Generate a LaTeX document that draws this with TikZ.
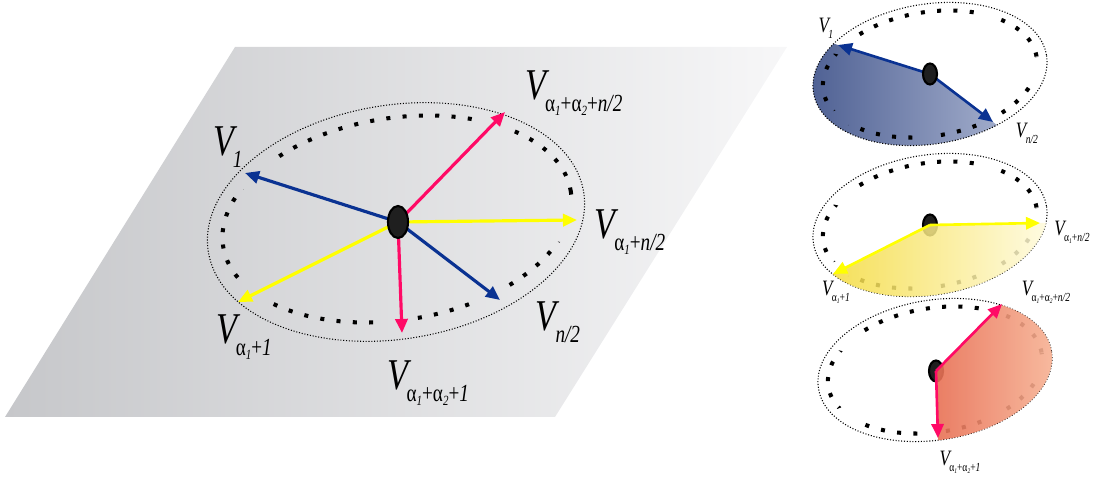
\documentclass[tikz,border=0pt]{standalone}
\usepackage{fontspec}
\setmainfont{Liberation Serif}
\usepackage{graphicx}
\usetikzlibrary{calc,arrows.meta}

\definecolor{vblue}{HTML}{0A3292}
\definecolor{vpink}{HTML}{FF0A66}
\definecolor{vyellow}{HTML}{FFFF00}
\definecolor{planeL}{HTML}{C6C7CA}
\definecolor{planeR}{HTML}{F7F7F8}
\definecolor{blueL}{HTML}{4E6093}
\definecolor{blueR}{HTML}{B8C1DA}
\definecolor{yelL}{HTML}{F3D72B}
\definecolor{yelR}{HTML}{FFFBE0}
\definecolor{redL}{HTML}{D82A10}
\definecolor{redM}{HTML}{EA5A3A}
\definecolor{redR}{HTML}{F7B496}

% labels V_{...}
\newcommand{\al}[1]{{\upshape α}\raisebox{-2pt}{\fontsize{8}{8}\selectfont #1}}
\newcommand{\pl}{{\upshape +}}
\newcommand{\vlab}[1]{\scalebox{0.78}[1]{\itshape\fontsize{25}{25}\selectfont V\kern-1pt\raisebox{-7pt}{\fontsize{14}{14}\selectfont #1}}}
\newcommand{\gaplist}{-153/-168,-41/-54,7/-9,44/31,101/81,-201/-212}

\begin{document}
\begin{tikzpicture}[x=0.02cm, y=-0.02cm,
    vec/.style={line width=1.8pt, -{Triangle[length=8pt,width=7pt]}},
    ring/.style={line width=2.3pt, dash pattern=on 2.3pt off 7pt},
    rim/.style={densely dotted, line width=0.6pt},
    hub/.style={fill=black!88, draw=black, line width=1.2pt}]
    \useasboundingbox (0,0) rectangle (1107,479);
    % plane
    \shade[left color=planeL, right color=planeR] (5,417) -- (235,47) -- (787,47) -- (555,417) -- cycle;

    % big picture
    \coordinate (o) at (398,222);
    \coordinate (v1) at (245,173);
    \coordinate (vn) at (500,300);
    \coordinate (va) at (505,112);
    \coordinate (vb) at (402,333);
    \coordinate (vc) at (577,220);
    \coordinate (vd) at (238,302);
    \draw[rim, rotate around={9:(396,222)}] (396,222) ellipse [x radius=190, y radius=117];
    \begin{scope}[even odd rule]
        \clip (0,0) rectangle (1107,479)
            \foreach \a/\b in \gaplist {(o) -- +(\a:500) -- +(\b:500) -- cycle};
        \draw[ring, rotate around={9:(397,219)}] (397,219) ellipse [x radius=176, y radius=101];
    \end{scope}
    \draw[vec, vblue] (o) -- (v1);
    \draw[vec, vblue] (o) -- (vn);
    \draw[vec, vpink] (o) -- (va);
    \draw[vec, vpink] (o) -- (vb);
    \draw[vec, vyellow] (o) -- (vc);
    \draw[vec, vyellow] (o) -- (vd);
    \draw[hub] (o) ellipse [x radius=10, y radius=16];
    \node (l1) at (228,147) {\vlab{1}};
    \node (la) at (574,93) {\vlab{\al{1}\pl\al{2}\pl n/2}};
    \node (lc) at (630,232) {\vlab{\al{1}\pl n/2}};
    \node (ln) at (558,322) {\vlab{n/2}};
    \node (ld) at (244,337) {\vlab{\al{1}\pl 1}};
    \node (lb) at (428,383) {\vlab{\al{1}\pl\al{2}\pl 1}};

    % panel 1
    \coordinate (o1) at (930,74);
    \coordinate (s1) at (838,45);
    \coordinate (s2) at (993,122);
    \begin{scope}
        \clip (o1) -- (s1) -- ($(o1)!4!(s1)$) -- ($(o1)+(-400,400)$) -- ($(o1)!4!(s2)$) -- (s2) -- cycle;
        \shade[left color=blueL, right color=blueR, rotate around={9:(o1)}] (o1) ellipse [x radius=118, y radius=70];
    \end{scope}
    \draw[rim, rotate around={9:(o1)}] (o1) ellipse [x radius=118, y radius=70];
    \begin{scope}[even odd rule]
        \clip (0,0) rectangle (1107,479)
            \foreach \a/\b in \gaplist {(o1) -- +(\a:500) -- +(\b:500) -- cycle};
        \draw[ring, rotate around={9:(o1)}] (o1) ellipse [x radius=108, y radius=62];
    \end{scope}
    \draw[vec, vblue, line width=1.5pt] (o1) -- (s1);
    \draw[vec, vblue, line width=1.5pt] (o1) -- (s2);
    \draw[hub] (o1) ellipse [x radius=7, y radius=10.5];
    \node (m1) at (826,28) {\scalebox{0.5}{\vlab{1}}};
    \node (m2) at (1027,133) {\scalebox{0.5}{\vlab{n/2}}};

    % panel 2
    \coordinate (o2) at (930,225);
    \coordinate (t1) at (1040,223);
    \coordinate (t2) at (833,274);
    \draw[rim, rotate around={9:(o2)}] (o2) ellipse [x radius=118, y radius=70];
    \begin{scope}[even odd rule]
        \clip (0,0) rectangle (1107,479)
            \foreach \a/\b in \gaplist {(o2) -- +(\a:500) -- +(\b:500) -- cycle};
        \draw[ring, rotate around={9:(o2)}] (o2) ellipse [x radius=108, y radius=62];
    \end{scope}
    \draw[hub] (o2) ellipse [x radius=7, y radius=10.5];
    \begin{scope}
        \clip (o2) -- (t1) -- ($(o2)!4!(t1)$) -- ($(o2)+(0,400)$) -- ($(o2)!4!(t2)$) -- (t2) -- cycle;
        \shade[left color=yelL, right color=yelR, opacity=0.85, rotate around={9:(o2)}] (o2) ellipse [x radius=118, y radius=70];
    \end{scope}
    \draw[vec, vyellow, line width=1.5pt] (o2) -- (t1);
    \draw[vec, vyellow, line width=1.5pt] (o2) -- (t2);
    \node (m3) at (1072,232) {\scalebox{0.5}{\vlab{\al{1}\pl n/2}}};
    \node (m4) at (836,292) {\scalebox{0.5}{\vlab{\al{1}\pl 1}}};

    % panel 3
    \coordinate (o3) at (936,371);
    \coordinate (u1) at (1002,304);
    \coordinate (u2) at (938,438);
    \draw[rim, rotate around={9:(935,370)}] (935,370) ellipse [x radius=118, y radius=70];
    \begin{scope}[even odd rule]
        \clip (0,0) rectangle (1107,479)
            \foreach \a/\b in \gaplist {(o3) -- +(\a:500) -- +(\b:500) -- cycle};
        \draw[ring, rotate around={9:(935,370)}] (935,370) ellipse [x radius=108, y radius=62];
    \end{scope}
    \draw[hub] (o3) ellipse [x radius=7, y radius=10.5];
    \begin{scope}
        \clip (o3) -- (u1) -- ($(o3)!4!(u1)$) -- ($(o3)+(400,0)$) -- ($(o3)!4!(u2)$) -- (u2) -- cycle;
        \shade[left color=redL, middle color=redM, right color=redR, opacity=0.9, rotate around={9:(935,370)}] (935,370) ellipse [x radius=118, y radius=70];
    \end{scope}
    \draw[vec, vpink, line width=1.5pt] (o3) -- (u1);
    \draw[vec, vpink, line width=1.5pt] (o3) -- (u2);
    \node (m5) at (1046,292) {\scalebox{0.5}{\vlab{\al{1}\pl\al{2}\pl n/2}}};
    \node (m6) at (960,462) {\scalebox{0.5}{\vlab{\al{1}\pl\al{2}\pl 1}}};
\end{tikzpicture}
\end{document}
